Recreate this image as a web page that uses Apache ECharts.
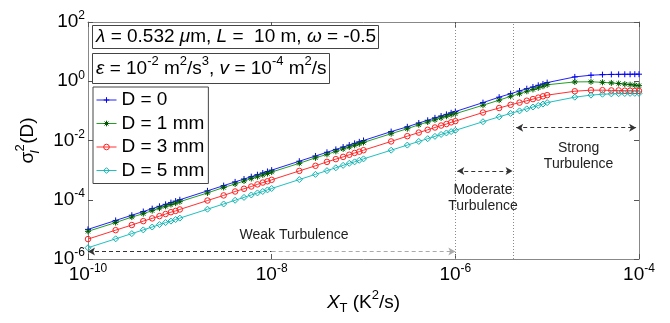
<!DOCTYPE html>
<html>
<head>
<meta charset="utf-8">
<script src="https://cdn.jsdelivr.net/npm/echarts@6/dist/echarts.min.js"></script>
<style>
  html, body { margin: 0; padding: 0; background: #fff; }
  #chart { width: 670px; height: 323px; }
</style>
</head>
<body>
<div id="chart"></div>
<script>
// X_T sample points (K^2/s), 1..9 per decade
const xs = [
  1e-10, 2e-10, 3e-10, 4e-10, 5e-10, 6e-10, 7e-10, 8e-10, 9e-10,
  1e-9, 2e-9, 3e-9, 4e-9, 5e-9, 6e-9, 7e-9, 8e-9, 9e-9,
  1e-8, 2e-8, 3e-8, 4e-8, 5e-8, 6e-8, 7e-8, 8e-8, 9e-8,
  1e-7, 2e-7, 3e-7, 4e-7, 5e-7, 6e-7, 7e-7, 8e-7, 9e-7,
  1e-6, 2e-6, 3e-6, 4e-6, 5e-6, 6e-6, 7e-6, 8e-6, 9e-6,
  1e-5, 2e-5, 3e-5, 4e-5, 5e-5, 6e-5, 7e-5, 8e-5, 9e-5,
  1e-4
];

// sigma_I^2(D)
const d0 = [
  1.0e-5, 2.0e-5, 3.0e-5, 4.0e-5, 5.0e-5, 6.0e-5, 7.0e-5, 8.0e-5, 9.0e-5,
  1.0e-4, 2.0e-4, 3.0e-4, 4.0e-4, 5.0e-4, 6.0e-4, 7.0e-4, 8.0e-4, 9.0e-4,
  1.0e-3, 2.0e-3, 3.0e-3, 4.0e-3, 5.0e-3, 6.0e-3, 7.0e-3, 8.0e-3, 9.0e-3,
  1.0e-2, 2.0e-2, 2.9e-2, 3.9e-2, 4.8e-2, 5.8e-2, 6.7e-2, 7.6e-2, 8.6e-2,
  0.095, 0.19, 0.29, 0.38, 0.47, 0.56, 0.64, 0.73, 0.81,
  0.9, 1.4, 1.6, 1.67, 1.7, 1.71, 1.72, 1.72, 1.73,
  1.73
];
const d1 = [
  8.6e-6, 1.7e-5, 2.6e-5, 3.4e-5, 4.3e-5, 5.2e-5, 6.0e-5, 6.9e-5, 7.7e-5,
  8.6e-5, 1.7e-4, 2.6e-4, 3.4e-4, 4.3e-4, 5.2e-4, 6.0e-4, 6.9e-4, 7.7e-4,
  8.6e-4, 1.7e-3, 2.6e-3, 3.4e-3, 4.3e-3, 5.2e-3, 6.0e-3, 6.9e-3, 7.7e-3,
  8.6e-3, 1.7e-2, 2.5e-2, 3.4e-2, 4.2e-2, 5.0e-2, 5.8e-2, 6.6e-2, 7.4e-2,
  0.08, 0.155, 0.23, 0.31, 0.38, 0.46, 0.53, 0.6, 0.68,
  0.76, 0.95, 0.96, 0.92, 0.88, 0.84, 0.8, 0.77, 0.74,
  0.71
];
const d3 = [
  4.7e-6, 9.4e-6, 1.4e-5, 1.9e-5, 2.35e-5, 2.8e-5, 3.3e-5, 3.8e-5, 4.2e-5,
  4.7e-5, 9.4e-5, 1.4e-4, 1.9e-4, 2.35e-4, 2.8e-4, 3.3e-4, 3.8e-4, 4.2e-4,
  4.7e-4, 9.4e-4, 1.4e-3, 1.9e-3, 2.35e-3, 2.8e-3, 3.3e-3, 3.8e-3, 4.2e-3,
  4.7e-3, 9.3e-3, 1.4e-2, 1.85e-2, 2.3e-2, 2.75e-2, 3.2e-2, 3.6e-2, 4.1e-2,
  0.045, 0.088, 0.125, 0.16, 0.19, 0.22, 0.25, 0.28, 0.31,
  0.34, 0.46, 0.5, 0.5, 0.49, 0.49, 0.48, 0.48, 0.47,
  0.47
];
const d5 = [
  2.4e-6, 4.8e-6, 7.2e-6, 9.6e-6, 1.2e-5, 1.45e-5, 1.7e-5, 1.9e-5, 2.15e-5,
  2.4e-5, 4.8e-5, 7.2e-5, 9.6e-5, 1.2e-4, 1.45e-4, 1.7e-4, 1.9e-4, 2.15e-4,
  2.4e-4, 4.8e-4, 7.2e-4, 9.6e-4, 1.2e-3, 1.45e-3, 1.7e-3, 1.9e-3, 2.15e-3,
  2.4e-3, 4.7e-3, 7.0e-3, 9.3e-3, 1.15e-2, 1.38e-2, 1.6e-2, 1.8e-2, 2.0e-2,
  0.022, 0.043, 0.063, 0.082, 0.1, 0.117, 0.135, 0.152, 0.17,
  0.19, 0.29, 0.34, 0.365, 0.375, 0.38, 0.385, 0.39, 0.39,
  0.39
];

const seriesNames = ["D = 0", "D = 1 mm", "D = 3 mm", "D = 5 mm"];

// regime borders and annotation anchors (data coords)
const regimeBorders = [1e-6, 4.3e-6];
const weakArrow = [[1e-10, 1.8e-6], [1e-8, 1.8e-6], [1e-6, 1.8e-6]];
const moderateArrow = [[1.05e-6, 9.3e-4], [4.2e-6, 9.3e-4]];
const strongArrow = [[4.6e-6, 2.7e-2], [9.3e-5, 2.7e-2]];
const regimeLabels = [
  { name: "Weak Turbulence", coord: [1.75e-8, 6.3e-6] },
  { name: "Moderate\nTurbulence", coord: [2.0e-6, 1.1e-4] },
  { name: "Strong\nTurbulence", coord: [2.2e-5, 3.0e-3] }
];

const FONT = "Liberation Sans";
const symPlus = "path://M5,0L5,10M0,5L10,5";
const symStar = "path://M5,0L5,10M0,5L10,5M1.5,1.5L8.5,8.5M1.5,8.5L8.5,1.5";
const symCircle = "path://M10,5A5,5,0,1,1,0,5A5,5,0,1,1,10,5Z";
const symDiamond = "path://M5,0L10,5L5,10L0,5Z";

const styles = [
  { line: "#2020ff", mark: "#0000ee", symbol: symPlus, size: 6 },
  { line: "#22a022", mark: "#005a00", symbol: symStar, size: 6 },
  { line: "#ff3030", mark: "#ff2020", symbol: symCircle, size: 5.5 },
  { line: "#20c0c0", mark: "#10b0b0", symbol: symDiamond, size: 6 }
];

function makeSeries(name, ys, st) {
  return {
    name,
    type: "line",
    data: xs.map((x, i) => [x, ys[i]]),
    color: st.line,
    symbol: st.symbol,
    symbolSize: st.size,
    showAllSymbol: true,
    lineStyle: { color: st.line, width: 1 },
    itemStyle: { color: "rgba(0,0,0,0)", borderColor: st.mark, borderWidth: 1 },
    emphasis: { disabled: true },
    animation: false
  };
}

const expLabel = (v) => `{b|10}{s|${Math.round(Math.log10(v))}}`;
const tickRich = {
  b: { fontFamily: FONT, fontSize: 19, color: "#000", lineHeight: 24 },
  s: { fontFamily: FONT, fontSize: 12, color: "#000", verticalAlign: "top" }
};

const dashed = { color: "#333", type: [4, 3], width: 1 };
const lightDashed = { color: "#aaa", type: [4, 3], width: 1 };
const dotted = { color: "#8a8a8a", type: [1, 2], width: 1 };

const chart = echarts.init(document.getElementById("chart"));
chart.setOption({
  animation: false,
  backgroundColor: "#fff",
  grid: { left: 88, right: 31, top: 22, bottom: 64, containLabel: false },
  title: [
    {
      text: "{i|λ} = 0.532 {i|μ}m, {i|L} =  10 m, {i|ω} = -0.5",
      left: 92, top: 25,
      padding: [1, 3, 1, 4],
      borderWidth: 1, borderColor: "#444", backgroundColor: "#fff",
      textStyle: {
        fontFamily: FONT, fontSize: 19, fontWeight: "normal", color: "#000", lineHeight: 22,
        rich: { i: { fontFamily: FONT, fontSize: 19, fontStyle: "italic", color: "#000" } }
      }
    },
    {
      text: "{i|ε} = 10{s|-2} m{s|2}/s{s|3}, {i|v} = 10{s|-4} m{s|2}/s",
      left: 92, top: 53,
      padding: [2, 3, 2, 4],
      borderWidth: 1, borderColor: "#444", backgroundColor: "#fff",
      textStyle: {
        fontFamily: FONT, fontSize: 19, fontWeight: "normal", color: "#000", lineHeight: 27,
        rich: {
          i: { fontFamily: FONT, fontSize: 19, fontStyle: "italic", color: "#000", lineHeight: 27 },
          s: { fontFamily: FONT, fontSize: 13, color: "#000", verticalAlign: "top" }
        }
      }
    }
  ],
  legend: {
    data: seriesNames.map((n, i) => ({
      name: n,
      itemStyle: { color: "rgba(0,0,0,0)", borderColor: styles[i].mark, borderWidth: 1 },
      lineStyle: { color: styles[i].line, width: 1 }
    })),
    orient: "vertical",
    left: 93, top: 87,
    padding: [3, 4, 3, 3],
    itemWidth: 20, itemHeight: 7, itemGap: 3.5,
    borderWidth: 1, borderColor: "#444", backgroundColor: "#fff",
    textStyle: { fontFamily: FONT, fontSize: 19, color: "#000", lineHeight: 20 },
    selectedMode: false
  },
  xAxis: [
    {
      type: "log", logBase: 10, min: 1e-10, max: 1e-4, interval: 2,
      position: "bottom",
      name: "{x|X}{sub|T} (K{sup|2}/s)",
      nameLocation: "middle", nameGap: 28,
      nameTextStyle: {
        fontFamily: FONT, fontSize: 19, color: "#000",
        rich: {
          x: { fontFamily: FONT, fontSize: 19, fontStyle: "italic", color: "#000", lineHeight: 26 },
          sub: { fontFamily: FONT, fontSize: 13, color: "#000", verticalAlign: "bottom" },
          sup: { fontFamily: FONT, fontSize: 13, color: "#000", verticalAlign: "top" }
        }
      },
      axisLine: { show: true, lineStyle: { color: "#888", width: 1 } },
      axisTick: { show: true, inside: true, length: 5, lineStyle: { color: "#555" } },
      axisLabel: { formatter: expLabel, rich: tickRich, margin: 4 },
      splitLine: { show: false }
    },
    {
      type: "log", logBase: 10, min: 1e-10, max: 1e-4, interval: 2,
      position: "top",
      axisLine: { show: true, lineStyle: { color: "#888", width: 1 } },
      axisTick: { show: true, inside: true, length: 5, lineStyle: { color: "#555" } },
      axisLabel: { show: false },
      splitLine: { show: false }
    }
  ],
  yAxis: [
    {
      type: "log", logBase: 10, min: 1e-6, max: 1e2, interval: 2,
      position: "left",
      name: "{g|σ}{sub|I}{sup|2}{g|(D)}",
      nameLocation: "middle", nameRotate: 90, nameGap: 46,
      nameTextStyle: {
        fontFamily: FONT, fontSize: 19, color: "#000",
        rich: {
          g: { fontFamily: FONT, fontSize: 19, color: "#000", lineHeight: 28 },
          sub: { fontFamily: FONT, fontSize: 13, fontStyle: "italic", color: "#000", verticalAlign: "bottom", width: 0.1 },
          sup: { fontFamily: FONT, fontSize: 13, color: "#000", verticalAlign: "top", width: 8 }
        }
      },
      axisLine: { show: true, lineStyle: { color: "#888", width: 1 } },
      axisTick: { show: true, inside: true, length: 5, lineStyle: { color: "#555" } },
      axisLabel: { formatter: expLabel, rich: tickRich, margin: 3 },
      splitLine: { show: false }
    },
    {
      type: "log", logBase: 10, min: 1e-6, max: 1e2, interval: 2,
      position: "right",
      axisLine: { show: true, lineStyle: { color: "#888", width: 1 } },
      axisTick: { show: true, inside: true, length: 5, lineStyle: { color: "#555" } },
      axisLabel: { show: false },
      splitLine: { show: false }
    }
  ],
  series: [
    {
      name: "annotations",
      type: "line",
      data: [],
      silent: true,
      markLine: {
        silent: true,
        animation: false,
        symbolSize: [6, 7],
        label: { show: false },
        data: [
          ...regimeBorders.map((v) => [
            { coord: [v, 1e-6], symbol: "none", lineStyle: dotted },
            { coord: [v, 1e2], symbol: "none" }
          ]),
          [{ coord: weakArrow[0], symbol: "arrow", lineStyle: dashed }, { coord: weakArrow[1], symbol: "none" }],
          [{ coord: weakArrow[1], symbol: "none", lineStyle: lightDashed }, { coord: weakArrow[2], symbol: "arrow" }],
          [{ coord: moderateArrow[0], symbol: "arrow", lineStyle: dashed }, { coord: moderateArrow[1], symbol: "arrow" }],
          [{ coord: strongArrow[0], symbol: "arrow", lineStyle: dashed }, { coord: strongArrow[1], symbol: "arrow" }]
        ],
        itemStyle: { color: "#222" }
      },
      markPoint: {
        silent: true,
        animation: false,
        symbol: "rect",
        symbolSize: 1,
        itemStyle: { color: "rgba(0,0,0,0)" },
        label: {
          show: true, position: "inside", formatter: (p) => p.name,
          fontFamily: FONT, fontSize: 14, color: "#222", lineHeight: 16
        },
        data: regimeLabels
      }
    },
    makeSeries(seriesNames[0], d0, styles[0]),
    makeSeries(seriesNames[1], d1, styles[1]),
    makeSeries(seriesNames[2], d3, styles[2]),
    makeSeries(seriesNames[3], d5, styles[3])
  ]
});
</script>
</body>
</html>
